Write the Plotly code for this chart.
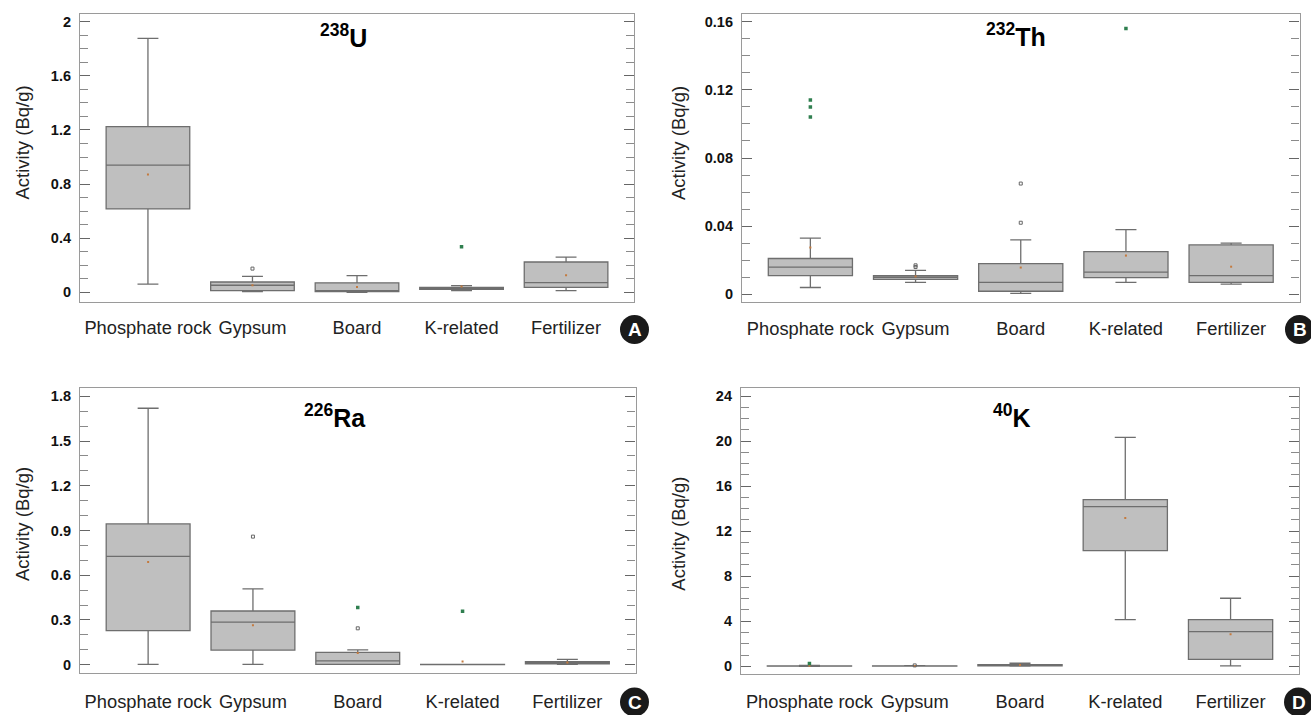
import plotly.graph_objects as go

W, H = 1311, 715
categories = ["Phosphate rock", "Gypsum", "Board", "K-related", "Fertilizer"]

# 238U
u_low = [0.06, 0.005, 0.0, 0.012, 0.012]
u_q1 = [0.616, 0.012, 0.005, 0.022, 0.037]
u_med = [0.94, 0.052, 0.01, 0.032, 0.072]
u_q3 = [1.224, 0.076, 0.07, 0.037, 0.224]
u_high = [1.877, 0.118, 0.123, 0.05, 0.26]
u_mean = [0.87, 0.052, 0.04, 0.042, 0.126]
u_green_cat = ["K-related"]
u_green_val = [0.337]
u_grey_cat = ["Gypsum"]
u_grey_val = [0.175]

# 232Th
th_low = [0.004, 0.007, 0.0006, 0.007, 0.006]
th_q1 = [0.011, 0.0088, 0.0018, 0.0098, 0.007]
th_med = [0.016, 0.010, 0.007, 0.013, 0.011]
th_q3 = [0.021, 0.011, 0.018, 0.025, 0.029]
th_high = [0.033, 0.014, 0.032, 0.038, 0.030]
th_mean = [0.0274, 0.0105, 0.0157, 0.0227, 0.0162]
th_green_cat = ["Phosphate rock", "Phosphate rock", "Phosphate rock", "K-related"]
th_green_val = [0.104, 0.110, 0.114, 0.156]
th_grey_cat = ["Gypsum", "Gypsum", "Board", "Board"]
th_grey_val = [0.016, 0.017, 0.042, 0.065]

# 226Ra
ra_low = [0.002, 0.002, 0.002, 0.001, 0.002]
ra_q1 = [0.228, 0.098, 0.002, 0.001, 0.005]
ra_med = [0.727, 0.286, 0.025, 0.001, 0.013]
ra_q3 = [0.944, 0.36, 0.083, 0.002, 0.02]
ra_high = [1.72, 0.508, 0.10, 0.002, 0.036]
ra_mean = [0.689, 0.264, 0.078, 0.022, 0.015]
ra_green_cat = ["Board", "K-related"]
ra_green_val = [0.383, 0.358]
ra_grey_cat = ["Gypsum", "Board"]
ra_grey_val = [0.859, 0.244]

# 40K
k_low = [0.0, 0.01, 0.02, 4.14, 0.03]
k_q1 = [0.01, 0.02, 0.05, 10.27, 0.62]
k_med = [0.02, 0.03, 0.10, 14.17, 3.08]
k_q3 = [0.03, 0.04, 0.15, 14.8, 4.14]
k_high = [0.09, 0.05, 0.27, 20.33, 6.04]
k_mean = [0.05, 0.03, 0.12, 13.17, 2.84]
k_green_cat = ["Phosphate rock"]
k_green_val = [0.24]
k_grey_cat = ["Gypsum"]
k_grey_val = [0.08]

panels = [
    dict(title="<sup>238</sup>U", letter="A", low=u_low, q1=u_q1, med=u_med, q3=u_q3, high=u_high, mean=u_mean,
         gc=u_green_cat, gv=u_green_val, oc=u_grey_cat, ov=u_grey_val,
         box=(80, 634, 14, 301.5), top=(2, 21.7), zero=292.3, dtick=0.4, minor=0.1,
         tx=343, ty=36, cx=634.5, cy=329.5, lx=22.5, ly=143, so=9),
    dict(title="<sup>232</sup>Th", letter="B", low=th_low, q1=th_q1, med=th_med, q3=th_q3, high=th_high, mean=th_mean,
         gc=th_green_cat, gv=th_green_val, oc=th_grey_cat, ov=th_grey_val,
         box=(742, 1299.5, 14, 302), top=(0.16, 21.7), zero=294.3, dtick=0.04, minor=0.01,
         tx=1015.5, ty=35, cx=1299.5, cy=329.5, lx=679, ly=143, so=10),
    dict(title="<sup>226</sup>Ra", letter="C", low=ra_low, q1=ra_q1, med=ra_med, q3=ra_q3, high=ra_high, mean=ra_mean,
         gc=ra_green_cat, gv=ra_green_val, oc=ra_grey_cat, ov=ra_grey_val,
         box=(80, 635.5, 388.3, 672.7), top=(1.8, 396.3), zero=664.7, dtick=0.3, minor=0.1,
         tx=335, ty=416, cx=634.5, cy=702, lx=22.5, ly=524.5, so=12),
    dict(title="<sup>40</sup>K", letter="D", low=k_low, q1=k_q1, med=k_med, q3=k_q3, high=k_high, mean=k_mean,
         gc=k_green_cat, gv=k_green_val, oc=k_grey_cat, ov=k_grey_val,
         box=(741, 1299, 388.3, 674.3), top=(24, 396), zero=666.3, dtick=4, minor=1,
         tx=1011.5, ty=416, cx=1298.5, cy=702, lx=679, ly=533.7, so=11),
]

FONT = "Liberation Sans"
fig = go.Figure()
shapes, annotations = [], []
layout = {}

for i, p in enumerate(panels, start=1):
    xa, ya = f"x{i}", f"y{i}"
    xk, yk = f"xaxis{i}", f"yaxis{i}"
    x0, x1, y0, y1 = p["box"]
    fig.add_trace(go.Box(
        x=categories, lowerfence=p["low"], q1=p["q1"], median=p["med"], q3=p["q3"], upperfence=p["high"],
        width=0.8, whiskerwidth=0.25, boxpoints=False, fillcolor="#bfbfbf",
        line=dict(color="#6e6e6e", width=1.3), xaxis=xa, yaxis=ya, showlegend=False))
    fig.add_trace(go.Scatter(x=categories, y=p["mean"], mode="markers", xaxis=xa, yaxis=ya, showlegend=False,
                             marker=dict(symbol="square", size=2, color="#c47a3e")))
    fig.add_trace(go.Scatter(x=p["gc"], y=p["gv"], mode="markers", xaxis=xa, yaxis=ya, showlegend=False,
                             marker=dict(symbol="square", size=3.5, color="#2f7f4f")))
    fig.add_trace(go.Scatter(x=p["oc"], y=p["ov"], mode="markers", xaxis=xa, yaxis=ya, showlegend=False,
                             marker=dict(symbol="square-open", size=3, color="#666666", line=dict(width=1))))
    tv, tpx = p["top"]
    per_px = tv / (p["zero"] - tpx)
    yr = [-(y1 - p["zero"]) * per_px, (p["zero"] - y0) * per_px]
    layout[xk] = dict(domain=[x0 / W, x1 / W], anchor=ya, type="category", categoryorder="array",
                      categoryarray=categories, range=[-0.65, 4.65], showgrid=False, zeroline=False,
                      showline=True, mirror=True, linecolor="#9a9a9a", linewidth=1.2, ticks="",
                      tickfont=dict(family=FONT, size=18.3, color="#222222"), ticklabelstandoff=p["so"])
    layout[yk] = dict(domain=[1 - y1 / H, 1 - y0 / H], anchor=xa, range=yr, dtick=p["dtick"], tick0=0,
                      showgrid=False, zeroline=False, showline=True, mirror="ticks", linecolor="#9a9a9a",
                      linewidth=1.2, ticks="inside", ticklen=10, tickcolor="#666666", tickwidth=1.2,
                      minor=dict(dtick=p["minor"], tick0=0, ticks="inside", ticklen=8, tickcolor="#8a8a8a",
                                 tickwidth=1.2, showgrid=False),
                      tickfont=dict(family=FONT, size=14.5, color="#111111", weight="bold"), ticklabelstandoff=5)
    annotations.append(dict(x=p["lx"] / W, y=1 - p["ly"] / H, xref="paper", yref="paper", text="Activity (Bq/g)",
                            textangle=-90, showarrow=False, xanchor="center", yanchor="middle",
                            font=dict(family=FONT, size=18.5, color="#222222")))
    annotations.append(dict(x=p["tx"] / W, y=1 - p["ty"] / H, xref="paper", yref="paper", text=p["title"],
                            showarrow=False, xanchor="center", yanchor="middle",
                            font=dict(family=FONT, size=25, color="#000000", weight="bold")))
    r = 14.5
    shapes.append(dict(type="circle", xref="paper", yref="paper", x0=(p["cx"] - r) / W, x1=(p["cx"] + r) / W,
                       y0=1 - (p["cy"] + r) / H, y1=1 - (p["cy"] - r) / H, fillcolor="#1a1a1a", line=dict(width=0)))
    annotations.append(dict(x=p["cx"] / W, y=1 - p["cy"] / H, xref="paper", yref="paper", text=p["letter"],
                            showarrow=False, xanchor="center", yanchor="middle",
                            font=dict(family=FONT, size=19, color="#ffffff", weight="bold")))

fig.update_layout(width=W, height=H, margin=dict(l=0, r=0, t=0, b=0), paper_bgcolor="white", plot_bgcolor="white",
                  showlegend=False, shapes=shapes, annotations=annotations, **layout)
fig.write_html("out.html", post_script="document.body.style.margin='0';", config=dict(displayModeBar=False))
